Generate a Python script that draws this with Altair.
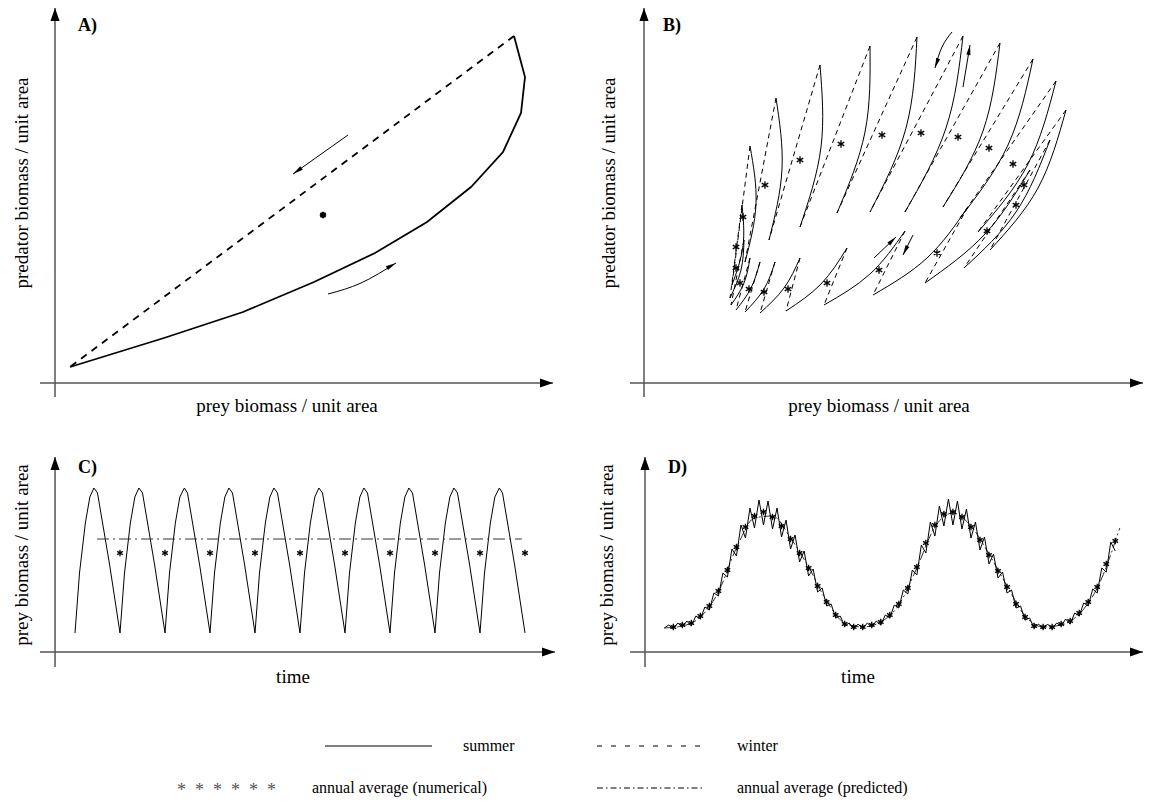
import math
import altair as alt
import pandas as pd

FONT = "Liberation Serif"
INK = "#000000"
AXIS_INK = "#555555"
STAR = "M0,-1L0,1M-0.87,-0.5L0.87,0.5M-0.87,0.5L0.87,-0.5"
AXIS_HEAD = "M0,0L0.7,2L-0.7,2Z"
THIN_HEAD = "M0,0L0.42,2L-0.42,2Z"
TITLE_SIZE = 19
LABEL_SIZE = 18
LEGEND_SIZE = 16

# ---------------- Panel A : one seasonal cycle in the phase plane ----------------
A_summer_x = [15, 109, 188, 259, 320, 372, 416, 448, 466, 470, 459]
A_summer_y = [16, 45, 71, 101, 130, 161, 196, 231, 270, 306, 347]
A_winter_x = [459, 15]
A_winter_y = [347, 16]
A_avg_x = [268]
A_avg_y = [168]
A_arrow_winter_x = [293, 238]
A_arrow_winter_y = [248, 209]
A_arrow_summer_x = [273, 306, 341]
A_arrow_summer_y = [89, 100, 120]

# ---------------- Panel B : yearly arcs around the long cycle ----------------
B_start_x = [346, 334, 316, 299, 261, 226, 193, 156, 125, 101, 88, 86, 87, 92, 101, 116, 142, 180, 229, 281, 320]
B_start_y = [133, 151, 165, 176, 171, 171, 170, 156, 143, 121, 98, 85, 78, 73, 71, 70, 72, 78, 88, 100, 115]
B_mid_x = [394, 384, 364, 339, 302, 262, 221, 177, 138, 112, 99, 97, 100, 107, 120, 140, 177, 226, 283, 341, 372]
B_mid_y = [195, 219, 238, 252, 255, 255, 251, 236, 214, 179, 137, 113, 100, 95, 94, 95, 99, 109, 125, 149, 171]
B_top_x = [422, 412, 389, 356, 319, 273, 226, 176, 132, 106, 98, 100, 106, 116, 131, 156, 203, 261, 324, 386, 406]
B_top_y = [273, 302, 324, 340, 347, 346, 337, 318, 285, 237, 178, 143, 125, 121, 121, 125, 135, 152, 176, 213, 243]
B_avg_x = [380, 369, 345, 314, 277, 238, 197, 156, 121, 99, 92, 92, 96, 105, 120, 144, 183, 235, 293, 343, 372]
B_avg_y = [198, 219, 235, 246, 250, 248, 239, 223, 198, 166, 136, 115, 100, 94, 91, 94, 100, 113, 130, 152, 178]
B_arrows = [
    ([308, 298, 291], [351, 336, 315]),
    ([319, 326], [296, 338]),
    ([230, 252], [125, 146]),
    ([269, 259], [148, 128]),
]

# ---------------- Panel C : prey over time (regular seasonal cycle) ----------------
C_time = [
    0, 0.1, 0.23, 0.33, 0.42, 0.5, 0.77,
    1, 1.1, 1.23, 1.33, 1.42, 1.5, 1.77,
    2, 2.1, 2.23, 2.33, 2.43, 2.5, 2.77,
    3, 3.1, 3.23, 3.33, 3.42, 3.5, 3.77,
    4, 4.1, 4.23, 4.33, 4.42, 4.5, 4.77,
    5, 5.1, 5.23, 5.33, 5.42, 5.5, 5.77,
    6, 6.1, 6.23, 6.33, 6.42, 6.5, 6.77,
    7, 7.1, 7.23, 7.33, 7.42, 7.5, 7.77,
    8, 8.1, 8.23, 8.33, 8.42, 8.5, 8.77,
    9, 9.1, 9.23, 9.33, 9.43, 9.5, 9.77,
    10,
]
C_prey = [
    19, 79, 129, 155, 164, 159, 87,
    19, 79, 129, 155, 164, 159, 87,
    19, 79, 129, 155, 164, 159, 87,
    19, 79, 129, 155, 164, 159, 87,
    19, 79, 129, 155, 164, 159, 87,
    19, 79, 129, 155, 164, 159, 87,
    19, 79, 129, 155, 164, 159, 87,
    19, 79, 129, 155, 164, 159, 87,
    19, 79, 129, 155, 164, 159, 87,
    19, 79, 129, 155, 164, 159, 87,
    19,
]
C_avg_time = [1, 2, 3, 4, 5, 6, 7, 8, 9, 10]
C_avg_prey = [99, 99, 99, 99, 99, 99, 99, 99, 99, 99]
C_pred_time = [0.49, 9.93]
C_pred_prey = [113, 113]

# ---------------- Panel D : prey over time (long cycle + seasonal zigzag) ----------------
D_year = [1, 2, 3, 4, 5, 6, 7, 8, 9, 10, 11, 12, 13, 14, 15, 16, 17, 18, 19, 20,
          21, 22, 23, 24, 25, 26, 27, 28, 29, 30, 31, 32, 33, 34, 35, 36, 37, 38, 39, 40,
          41, 42, 43, 44, 45, 46, 47, 48, 49, 50]
D_start = [0, 24]
D_peak = [27, 29, 31, 36, 45, 59, 79, 103, 127, 144, 152, 151, 144, 132, 117, 101, 83, 64, 48, 36,
          29, 28, 29, 31, 37, 47, 62, 82, 107, 130, 146, 153, 151, 143, 130, 115, 98, 80, 62, 46,
          34, 28, 28, 29, 33, 39, 49, 63, 84, 110]
D_trough = [23, 25, 26, 33, 42, 56, 75, 96, 114, 124, 127, 123, 115, 103, 90, 76, 60, 46, 34, 26,
            23, 23, 25, 27, 34, 44, 58, 77, 99, 116, 126, 127, 123, 114, 102, 88, 74, 59, 44, 32,
            24, 23, 23, 26, 28, 36, 46, 59, 80, 101]
D_avg = [25, 27, 29, 36, 46, 61, 82, 105, 125, 136, 140, 135, 126, 113, 99, 84, 66, 50, 37, 28,
         25, 25, 27, 30, 37, 48, 64, 85, 109, 127, 138, 140, 135, 125, 112, 97, 81, 65, 48, 35,
         26, 25, 25, 28, 31, 39, 50, 65, 88, 111]
D_pred_time = [0, 2, 4, 6, 8, 10, 12, 14, 16, 18, 20, 22, 24, 26, 28, 30, 32, 34, 36, 38, 40, 42, 44, 46, 48, 50.5]
D_pred_prey = [24, 26, 35, 60, 104, 134, 136, 114, 85, 51, 29, 25, 30, 47, 84, 125, 139, 126, 98, 66, 36, 25, 27, 38, 64, 124]

# ---------------- frames of each panel (axis extents in panel units) ----------------
A_XDOM, A_YDOM = [-55, 520], [-37, 383]
B_XDOM, B_YDOM = [-69, 507], [-37, 383]
C_XDOM, C_YDOM = [-5 / 3, 100 / 9], [-48, 232]
D_XDOM, D_YDOM = [-9.899, 53.96], [-48, 232]
A_AXES = [([-15, 498], [0, 0]), ([0, 0], [-14, 375])]
B_AXES = [([-14, 499], [0, 0]), ([0, 0], [-14, 375])]
C_AXES = [([-0.778, 10.667], [0, 0]), ([-0.444, -0.444], [-15, 195])]
D_AXES = [([-3.80, 53.07], [0, 0]), ([-2.137, -2.137], [-15, 195])]


def sc(dom):
    return alt.Scale(domain=dom, nice=False, zero=False)


def enc_xy(xs, ys):
    return dict(x=alt.X("x:Q", scale=xs, axis=None), y=alt.Y("y:Q", scale=ys, axis=None))


def seg_frame(segs):
    rows = []
    for s, (xx, yy) in enumerate(segs):
        for i, (a, b) in enumerate(zip(xx, yy)):
            rows.append({"x": a, "y": b, "seg": s, "ord": i})
    return pd.DataFrame(rows)


def line_layer(segs, xs, ys, width=1.0, dash=None, interp="linear", color=INK):
    props = dict(strokeWidth=width, color=color, interpolate=interp, strokeCap="butt")
    if dash is not None:
        props["strokeDash"] = dash
    return alt.Chart(seg_frame(segs)).mark_line(**props).encode(
        detail="seg:N", order=alt.Order("ord:Q"), **enc_xy(xs, ys))


def head_layer(segs, xs, ys, sx, sy, shape, size, color=INK):
    rows = []
    for xx, yy in segs:
        dx = (xx[-1] - xx[-2]) * sx
        dy = (yy[-1] - yy[-2]) * sy
        rows.append({"x": xx[-1], "y": yy[-1], "ang": math.degrees(math.atan2(dx, dy)) % 360})
    return alt.Chart(pd.DataFrame(rows)).mark_point(
        shape=shape, size=size, filled=True, opacity=1, color=color, strokeWidth=0
    ).encode(angle=alt.Angle("ang:Q", scale=None), **enc_xy(xs, ys))


def star_layer(xx, yy, xs, ys, size=56, width=1.3, color=INK):
    df = pd.DataFrame({"x": xx, "y": yy})
    return alt.Chart(df).mark_point(
        shape=STAR, size=size, filled=False, opacity=1, color=color, strokeWidth=width
    ).encode(**enc_xy(xs, ys))


def text_layer(txt, x, y, size=TITLE_SIZE, bold=False, angle=0, align="center", baseline="middle", color=INK):
    props = dict(text=txt, font=FONT, fontSize=size, fontWeight="bold" if bold else "normal",
                 align=align, baseline=baseline, color=color)
    if angle:
        props["angle"] = angle
    return alt.Chart(pd.DataFrame({"k": [0]})).mark_text(**props).encode(
        x=alt.value(x), y=alt.value(y))


def axes_layers(axes, xs, ys, sx, sy):
    return [line_layer(axes, xs, ys, width=1.5, color=AXIS_INK),
            head_layer(axes, xs, ys, sx, sy, AXIS_HEAD, 169)]


# ---------------- Panel A ----------------
axs, ays = sc(A_XDOM), sc(A_YDOM)
A_arrows = [(A_arrow_winter_x, A_arrow_winter_y), (A_arrow_summer_x, A_arrow_summer_y)]
panelA = alt.layer(
    *axes_layers(A_AXES, axs, ays, 1, 1),
    line_layer([(A_summer_x, A_summer_y)], axs, ays, width=1.8),
    line_layer([(A_winter_x, A_winter_y)], axs, ays, width=1.8, dash=[7, 6]),
    line_layer(A_arrows, axs, ays, width=1.0, interp="natural"),
    head_layer(A_arrows, axs, ays, 1, 1, THIN_HEAD, 110),
    star_layer(A_avg_x, A_avg_y, axs, ays, size=42, width=2.4),
    text_layer("A)", 78, 31, size=LABEL_SIZE, bold=True, align="left", baseline="alphabetic"),
    text_layer("prey biomass / unit area", 287, 406),
    text_layer("predator biomass / unit area", 22, 183, angle=270),
).properties(width=575, height=420)

# ---------------- Panel B ----------------
bxs, bys = sc(B_XDOM), sc(B_YDOM)
n = len(B_start_x)
B_summer = [([B_start_x[k], B_mid_x[k], B_top_x[k]], [B_start_y[k], B_mid_y[k], B_top_y[k]]) for k in range(n)]
B_winter = [([B_top_x[k], B_start_x[(k + 1) % n]], [B_top_y[k], B_start_y[(k + 1) % n]]) for k in range(n)]
panelB = alt.layer(
    *axes_layers(B_AXES, bxs, bys, 1, 1),
    line_layer(B_summer, bxs, bys, width=1.0, interp="natural"),
    line_layer(B_winter, bxs, bys, width=1.0, dash=[5, 4]),
    line_layer(B_arrows, bxs, bys, width=1.0, interp="natural"),
    head_layer(B_arrows, bxs, bys, 1, 1, THIN_HEAD, 100),
    star_layer(B_avg_x, B_avg_y, bxs, bys),
    text_layer("B)", 88, 31, size=LABEL_SIZE, bold=True, align="left", baseline="alphabetic"),
    text_layer("prey biomass / unit area", 304, 406),
    text_layer("predator biomass / unit area", 34, 183, angle=270),
).properties(width=576, height=420)

# ---------------- Panel C ----------------
cxs, cys = sc(C_XDOM), sc(C_YDOM)
panelC = alt.layer(
    *axes_layers(C_AXES, cxs, cys, 45, 1),
    line_layer([(C_time, C_prey)], cxs, cys, width=1.0),
    line_layer([(C_pred_time, C_pred_prey)], cxs, cys, width=1.0, dash=[12, 4, 2, 4], color="#333333"),
    star_layer(C_avg_time, C_avg_prey, cxs, cys, size=42),
    text_layer("C)", 78, 53, size=LABEL_SIZE, bold=True, align="left", baseline="alphabetic"),
    text_layer("time", 293, 257),
    text_layer("prey biomass / unit area", 22, 135, angle=270),
).properties(width=575, height=280)

# ---------------- Panel D ----------------
dxs, dys = sc(D_XDOM), sc(D_YDOM)
D_t = [D_start[0]]
D_v = [D_start[1]]
for yr, pk, tr in zip(D_year, D_peak, D_trough):
    D_t += [yr - 0.5, yr]
    D_v += [pk, tr]
panelD = alt.layer(
    *axes_layers(D_AXES, dxs, dys, 9.02, 1),
    line_layer([(D_pred_time, D_pred_prey)], dxs, dys, width=1.0, dash=[10, 3, 2, 3], interp="monotone", color="#333333"),
    line_layer([(D_t, D_v)], dxs, dys, width=1.0),
    star_layer(D_year, D_avg, dxs, dys, size=42),
    text_layer("D)", 93, 53, size=LABEL_SIZE, bold=True, align="left", baseline="alphabetic"),
    text_layer("time", 283, 257),
    text_layer("prey biomass / unit area", 32, 135, angle=270),
).properties(width=576, height=280)

# ---------------- legend ----------------
one = pd.DataFrame({"k": [0]})


def leg_rule(x1, x2, y, dash=None, color=INK):
    props = dict(color=color, strokeWidth=1.1)
    if dash is not None:
        props["strokeDash"] = dash
    return alt.Chart(one).mark_rule(**props).encode(x=alt.value(x1), x2=alt.value(x2), y=alt.value(y))


NB = "\u00a0"
stars_text = (NB * 2).join(["*"] * 6)

legend = alt.layer(
    leg_rule(325, 432, 46),
    text_layer("summer", 463, 46, size=LEGEND_SIZE, align="left"),
    leg_rule(597, 705, 46, dash=[5, 9]),
    text_layer("winter", 737, 46, size=LEGEND_SIZE, align="left"),
    text_layer(stars_text, 177, 100, size=18, align="left", baseline="bottom", color="#555555"),
    text_layer("annual average (numerical)", 312, 88, size=LEGEND_SIZE, align="left"),
    leg_rule(597, 705, 88, dash=[6, 3, 1.5, 3]),
    text_layer("annual average (predicted)", 737, 88, size=LEGEND_SIZE, align="left"),
).properties(width=1151, height=102)

row1 = alt.hconcat(panelA, panelB, spacing=0)
row2 = alt.hconcat(panelC, panelD, spacing=0)
chart = alt.vconcat(row1, row2, legend, spacing=0).properties(
    padding=0, background="white"
).configure_view(stroke=None)

chart.save("out.html", embed_options={"renderer": "svg", "actions": False})
